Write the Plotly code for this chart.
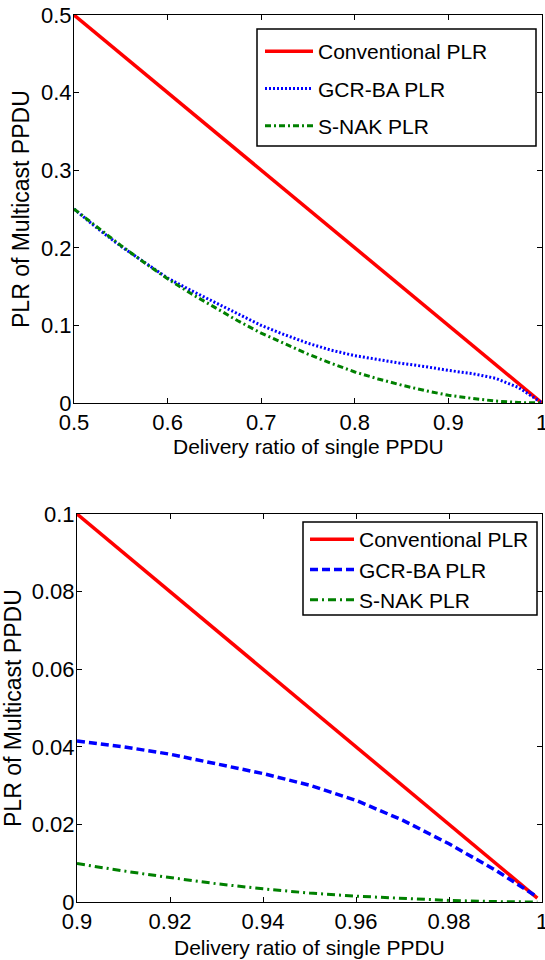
import plotly.graph_objects as go

# ---------------- data ----------------
# Top panel: delivery ratio 0.5 .. 1
top_x = [0.5, 0.525, 0.55, 0.575, 0.6, 0.625, 0.65, 0.675, 0.7, 0.725, 0.75,
         0.775, 0.8, 0.825, 0.85, 0.875, 0.9, 0.925, 0.95, 0.975, 1.0]
top_conv = [0.5, 0.475, 0.45, 0.425, 0.4, 0.375, 0.35, 0.325, 0.3, 0.275, 0.25,
            0.225, 0.2, 0.175, 0.15, 0.125, 0.1, 0.075, 0.05, 0.025, 0.0]
top_gcr = [0.250, 0.225, 0.202, 0.181, 0.161, 0.145, 0.130, 0.114, 0.100, 0.088, 0.077,
           0.068, 0.061, 0.056, 0.051, 0.047, 0.042, 0.038, 0.032, 0.020, 0.0]
top_snak = [0.250, 0.226, 0.203, 0.181, 0.160, 0.141, 0.123, 0.106, 0.090, 0.076, 0.063,
            0.051, 0.040, 0.031, 0.023, 0.016, 0.010, 0.006, 0.0025, 0.0006, 0.0]

# Bottom panel: delivery ratio 0.9 .. 0.999
bot_x = [0.9, 0.91, 0.92, 0.93, 0.94, 0.95, 0.96, 0.97, 0.98, 0.99, 0.999]
bot_conv = [0.1, 0.09, 0.08, 0.07, 0.06, 0.05, 0.04, 0.03, 0.02, 0.01, 0.001]
bot_gcr = [0.0415, 0.0400, 0.0381, 0.0357, 0.0331, 0.0301, 0.0262, 0.0211, 0.0150, 0.0082, 0.0013]
bot_snak = [0.0099, 0.0080, 0.0063, 0.0047, 0.0034, 0.0023, 0.0015, 0.0009, 0.0004, 0.0001, 0.0]

series_names = ["Conventional PLR", "GCR-BA PLR", "S-NAK PLR"]
x_title = "Delivery ratio of single PPDU"
y_title = "PLR of Multicast PPDU"

RED = "#ff0000"
BLUE = "#0000ff"
GREEN = "#008000"
FONT = "Liberation Sans, Arial, sans-serif"

W, H = 545, 960


def px(xp):
    return xp / W


def py(yp):
    return 1 - yp / H


fig = go.Figure()

# top panel traces
fig.add_trace(go.Scatter(x=top_x, y=top_conv, name=series_names[0], mode="lines",
                         line=dict(color=RED, width=3.5), xaxis="x", yaxis="y",
                         legend="legend", legendgroup="a"))
fig.add_trace(go.Scatter(x=top_x, y=top_gcr, name=series_names[1], mode="lines",
                         line=dict(color=BLUE, width=3, dash="2px,2px"), xaxis="x", yaxis="y",
                         legend="legend", legendgroup="b"))
fig.add_trace(go.Scatter(x=top_x, y=top_snak, name=series_names[2], mode="lines",
                         line=dict(color=GREEN, width=3, dash="6px,3px,2px,3px"), xaxis="x", yaxis="y",
                         legend="legend", legendgroup="c"))

# bottom panel traces
fig.add_trace(go.Scatter(x=bot_x, y=bot_conv, name=series_names[0], mode="lines",
                         line=dict(color=RED, width=3.5), xaxis="x2", yaxis="y2",
                         legend="legend2", legendgroup="d"))
fig.add_trace(go.Scatter(x=bot_x, y=bot_gcr, name=series_names[1], mode="lines",
                         line=dict(color=BLUE, width=3.5, dash="8px,4px"), xaxis="x2", yaxis="y2",
                         legend="legend2", legendgroup="e"))
fig.add_trace(go.Scatter(x=bot_x, y=bot_snak, name=series_names[2], mode="lines",
                         line=dict(color=GREEN, width=3, dash="8px,4px,2px,4px"), xaxis="x2", yaxis="y2",
                         legend="legend2", legendgroup="f"))

axis_common = dict(showline=True, mirror="ticks", linecolor="black", linewidth=1,
                   ticks="inside", ticklen=5, tickcolor="black", tickwidth=1,
                   showgrid=False, zeroline=False, automargin=False,
                   ticklabeloverflow="allow",
                   tickfont=dict(family=FONT, size=22, color="black"))

fig.update_layout(
    template="none",
    width=W, height=H, autosize=False,
    margin=dict(l=0, r=0, t=0, b=0, pad=0, autoexpand=False),
    paper_bgcolor="white", plot_bgcolor="white",
    font=dict(family=FONT, color="black"),
    xaxis=dict(domain=[px(74), px(542)], range=[0.5, 1], anchor="y",
               tickvals=[0.5, 0.6, 0.7, 0.8, 0.9, 1.0], **axis_common),
    yaxis=dict(domain=[py(403), py(15)], range=[0, 0.5], anchor="x",
               tickvals=[0, 0.1, 0.2, 0.3, 0.4, 0.5], ticklabelstandoff=-3, **axis_common),
    xaxis2=dict(domain=[px(77), px(542)], range=[0.9, 1], anchor="y2",
                tickvals=[0.9, 0.92, 0.94, 0.96, 0.98, 1.0], **axis_common),
    yaxis2=dict(domain=[py(902), py(514)], range=[0, 0.1], anchor="x2",
                tickvals=[0, 0.02, 0.04, 0.06, 0.08, 0.1], ticklabelstandoff=-3, **axis_common),
    legend=dict(x=px(260), y=py(31), xanchor="left", yanchor="top",
                bgcolor="rgba(0,0,0,0)", borderwidth=0, tracegroupgap=7,
                font=dict(family=FONT, size=21, color="black"), itemwidth=48),
    legend2=dict(x=px(305), y=py(519), xanchor="left", yanchor="top",
                 bgcolor="rgba(0,0,0,0)", borderwidth=0, tracegroupgap=0,
                 font=dict(family=FONT, size=21, color="black"), itemwidth=44),
    shapes=[
        dict(type="rect", xref="paper", yref="paper",
             x0=px(257), x1=px(536), y0=py(146), y1=py(29),
             line=dict(color="black", width=1.5), fillcolor="white", layer="above"),
        dict(type="rect", xref="paper", yref="paper",
             x0=px(303), x1=px(537), y0=py(615), y1=py(522),
             line=dict(color="black", width=1.5), fillcolor="white", layer="above"),
    ],
    annotations=[
        dict(text=x_title, xref="paper", yref="paper", x=px(308), y=py(447),
             xanchor="center", yanchor="middle", showarrow=False,
             font=dict(family=FONT, size=21, color="black")),
        dict(text=y_title, xref="paper", yref="paper", x=px(21), y=py(209),
             xanchor="center", yanchor="middle", showarrow=False, textangle=-90,
             font=dict(family=FONT, size=23, color="black")),
        dict(text=x_title, xref="paper", yref="paper", x=px(309), y=py(947),
             xanchor="center", yanchor="middle", showarrow=False,
             font=dict(family=FONT, size=21, color="black")),
        dict(text=y_title, xref="paper", yref="paper", x=px(13), y=py(708),
             xanchor="center", yanchor="middle", showarrow=False, textangle=-90,
             font=dict(family=FONT, size=23, color="black")),
    ],
)

# remove the default 8px page margin so the figure sits at the window origin
fig.write_html("out.html",
               config={"displayModeBar": False},
               post_script="document.body.style.margin='0';document.body.style.overflow='hidden';")
